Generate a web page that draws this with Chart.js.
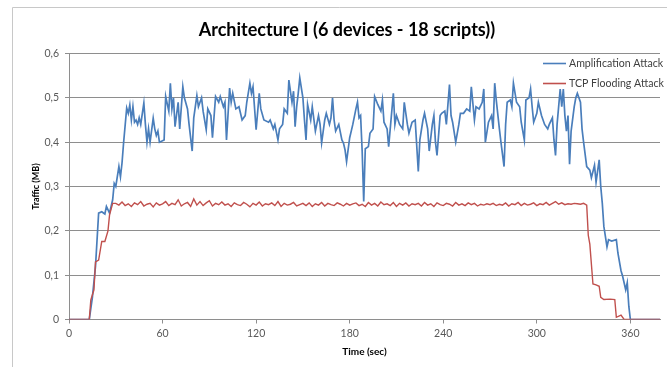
<!DOCTYPE html>
<html>
<head>
<meta charset="utf-8">
<script src="https://cdn.jsdelivr.net/npm/chart.js@4/dist/chart.umd.min.js"></script>
<style>
  html, body { margin: 0; padding: 0; background: #fff; overflow: hidden; }
  canvas { display: block; }
</style>
</head>
<body>
<canvas id="traffic_chart" width="667" height="367"></canvas>
<script>
// Traffic samples [time (sec), traffic (MB)]
const ampSamples = [
  [0,0],[13,0],[15,0.05],[17,0.12],[19,0.24],[21,0.243],[23,0.238],[24,0.255],[26,0.24],[28,0.27],
  [29,0.307],[30,0.3],[32,0.345],[33,0.322],[34,0.353],[35,0.398],[37,0.477],[38,0.465],[39,0.484],[40,0.45],
  [41,0.48],[42,0.445],[43,0.45],[44,0.44],[45,0.455],[46,0.44],[48,0.488],[49,0.44],[50,0.4],[51,0.43],
  [52,0.4],[54,0.454],[55,0.43],[56,0.415],[57,0.425],[58,0.4],[61,0.405],[62,0.503],[64,0.47],[65,0.533],
  [66,0.475],[67,0.5],[68,0.435],[70,0.49],[71,0.43],[73,0.525],[74,0.5],[76,0.475],[77,0.44],[79,0.38],
  [80,0.455],[82,0.505],[83,0.48],[85,0.5],[86,0.47],[88,0.428],[89,0.475],[91,0.46],[92,0.41],[94,0.503],
  [96,0.49],[97,0.503],[99,0.48],[100,0.49],[101,0.405],[103,0.522],[104,0.49],[105,0.51],[107,0.475],[109,0.48],
  [111,0.45],[113,0.46],[114,0.49],[116,0.533],[117,0.51],[118,0.525],[120,0.428],[122,0.51],[123,0.475],[125,0.45],
  [128,0.445],[129,0.45],[131,0.43],[132,0.44],[134,0.405],[135,0.43],[137,0.44],[138,0.475],[140,0.465],[141,0.54],
  [143,0.49],[144,0.515],[145,0.435],[146,0.48],[147,0.51],[148,0.545],[150,0.5],[151,0.45],[152,0.405],[153,0.485],
  [155,0.45],[156,0.48],[158,0.425],[160,0.46],[161,0.44],[162,0.398],[164,0.45],[165,0.465],[167,0.44],[168,0.455],
  [169,0.5],[170,0.45],[171,0.425],[173,0.44],[175,0.405],[176,0.398],[177,0.383],[178,0.356],[180,0.41],[181,0.425],
  [182,0.44],[184,0.475],[185,0.49],[186,0.455],[187,0.46],[188,0.38],[189,0.266],[190,0.385],[192,0.39],[193,0.42],
  [195,0.43],[196,0.503],[198,0.485],[200,0.47],[201,0.495],[202,0.445],[204,0.43],[205,0.39],[208,0.51],[209,0.44],
  [210,0.46],[212,0.44],[214,0.43],[215,0.49],[217,0.44],[218,0.42],[220,0.445],[222,0.45],[224,0.334],[225,0.405],
  [227,0.45],[228,0.465],[230,0.43],[231,0.38],[233,0.44],[234,0.46],[235,0.4],[236,0.37],[238,0.46],[239,0.465],
  [241,0.47],[242,0.44],[244,0.53],[245,0.46],[246,0.445],[248,0.4],[250,0.44],[251,0.465],[253,0.465],[255,0.475],
  [257,0.47],[258,0.525],[260,0.45],[261,0.48],[263,0.475],[265,0.49],[266,0.52],[267,0.4],[269,0.445],[271,0.46],
  [272,0.43],[273,0.533],[274,0.495],[276,0.43],[277,0.4],[279,0.345],[280,0.44],[281,0.49],[283,0.495],[284,0.48],
  [285,0.533],[287,0.49],[289,0.48],[290,0.445],[292,0.405],[293,0.495],[295,0.5],[296,0.52],[297,0.48],[298,0.445],
  [300,0.465],[301,0.49],[303,0.46],[305,0.44],[307,0.43],[308,0.44],[310,0.455],[311,0.405],[312,0.37],[313,0.44],
  [315,0.52],[316,0.48],[317,0.52],[318,0.46],[319,0.425],[320,0.46],[321,0.35],[322,0.425],[324,0.48],[325,0.5],
  [326,0.51],[328,0.49],[329,0.43],[330,0.4],[332,0.345],[334,0.337],[335,0.32],[337,0.348],[338,0.31],[340,0.36],
  [341,0.3],[342,0.262],[343,0.21],[345,0.164],[346,0.18],[348,0.177],[351,0.18],[352,0.15],[354,0.11],[355,0.098],
  [357,0.067],[358,0.083],[359,0.03],[360,0],[379,0]
];

const tcpSamples = [
  [0,0],[13,0],[14,0.044],[16,0.067],[17,0.13],[19,0.134],[21,0.176],[23,0.176],[25,0.2],[26,0.236],[28,0.262],
  [30,0.262],[32,0.258],[34,0.265],[36,0.257],[38,0.261],[40,0.255],[42,0.263],[44,0.259],[46,0.266],[48,0.256],
  [50,0.26],[52,0.262],[54,0.254],[56,0.263],[58,0.258],[60,0.261],[62,0.266],[64,0.257],[66,0.262],[68,0.259],
  [70,0.27],[72,0.256],[74,0.261],[76,0.264],[78,0.255],[80,0.272],[82,0.258],[84,0.266],[86,0.257],[88,0.263],
  [90,0.268],[92,0.256],[94,0.262],[96,0.259],[98,0.265],[100,0.258],[102,0.261],[104,0.255],[106,0.263],[108,0.259],
  [110,0.257],[112,0.264],[114,0.26],[116,0.254],[118,0.262],[120,0.258],[122,0.265],[124,0.256],[126,0.261],[128,0.259],
  [130,0.263],[132,0.257],[134,0.266],[136,0.255],[138,0.262],[140,0.258],[142,0.26],[144,0.264],[146,0.256],[148,0.259],
  [150,0.262],[152,0.257],[154,0.263],[156,0.255],[158,0.261],[160,0.258],[162,0.264],[164,0.256],[166,0.262],[168,0.259],
  [170,0.257],[172,0.263],[174,0.26],[176,0.256],[178,0.262],[180,0.258],[182,0.261],[184,0.263],[186,0.257],[188,0.26],
  [190,0.255],[192,0.264],[194,0.258],[196,0.262],[198,0.256],[200,0.265],[202,0.259],[204,0.261],[206,0.257],[208,0.264],
  [210,0.255],[212,0.262],[214,0.258],[216,0.263],[218,0.256],[220,0.261],[222,0.259],[224,0.262],[226,0.256],[228,0.264],
  [230,0.258],[232,0.261],[234,0.255],[236,0.263],[238,0.259],[240,0.257],[242,0.262],[244,0.26],[246,0.256],[248,0.264],
  [250,0.258],[252,0.261],[254,0.257],[256,0.263],[258,0.259],[260,0.262],[262,0.256],[264,0.26],[266,0.258],[268,0.261],
  [270,0.259],[272,0.262],[274,0.257],[276,0.26],[278,0.258],[280,0.263],[282,0.256],[284,0.261],[286,0.259],[288,0.264],
  [290,0.257],[292,0.262],[294,0.258],[296,0.26],[298,0.263],[300,0.257],[302,0.261],[304,0.259],[306,0.264],[308,0.258],
  [310,0.262],[312,0.266],[314,0.26],[316,0.263],[318,0.259],[320,0.261],[322,0.26],[324,0.262],[326,0.261],[328,0.26],
  [330,0.262],[332,0.258],[333,0.19],[334,0.17],[336,0.08],[338,0.078],[340,0.075],[341,0.05],[343,0.045],[347,0.046],
  [350,0.045],[351,0.005],[354,0.01],[356,0],[379,0]
];

const seriesNames = ['Amplification Attack', 'TCP Flooding Attack'];
const seriesColors = ['#4a7ebb', '#c0504d'];
const timeTicks = [0, 60, 120, 180, 240, 300, 360];
const trafficTicks = [0, 0.1, 0.2, 0.3, 0.4, 0.5, 0.6];
const chartTitle = 'Architecture I (6 devices - 18 scripts))';

const toPoints = rows => rows.map(r => ({ x: r[0], y: r[1] }));
const FONT = 'Lato, "Open Sans", sans-serif';

// frame round the chart, title over the whole frame, legend top right of the plot
const framePlugin = {
  id: 'frame',
  beforeDraw(chart) {
    const ctx = chart.ctx;
    ctx.save();
    ctx.fillStyle = '#fff';
    ctx.fillRect(0, 0, chart.width, chart.height);
    ctx.strokeStyle = '#c8c8c8';
    ctx.lineWidth = 1;
    ctx.beginPath();
    ctx.moveTo(12.5, chart.height);
    ctx.lineTo(12.5, 7.5);
    ctx.lineTo(chart.width, 7.5);
    ctx.stroke();
    ctx.restore();
  },
  afterDraw(chart) {
    const ctx = chart.ctx;
    const area = chart.chartArea;
    ctx.save();
    ctx.fillStyle = '#000';
    ctx.font = 'bold 18px ' + FONT;
    ctx.textAlign = 'center';
    ctx.textBaseline = 'middle';
    ctx.fillText(chartTitle, 347, 30);

    ctx.font = '10.6px ' + FONT;
    ctx.textAlign = 'left';
    seriesNames.forEach((name, i) => {
      const y = area.top + 10 + i * 20;
      const x0 = area.right - 117;
      ctx.strokeStyle = seriesColors[i];
      ctx.lineWidth = 1.6;
      ctx.beginPath();
      ctx.moveTo(x0, y);
      ctx.lineTo(x0 + 23, y);
      ctx.stroke();
      ctx.fillStyle = '#404040';
      ctx.fillText(name, x0 + 26, y);
    });
    ctx.restore();
  }
};

new Chart(document.getElementById('traffic_chart'), {
  type: 'line',
  data: {
    datasets: [
      {
        label: seriesNames[0],
        data: toPoints(ampSamples),
        borderColor: seriesColors[0],
        borderWidth: 1.7,
        pointRadius: 0,
        tension: 0,
        order: 1
      },
      {
        label: seriesNames[1],
        data: toPoints(tcpSamples),
        borderColor: seriesColors[1],
        borderWidth: 1.4,
        pointRadius: 0,
        tension: 0,
        order: 0
      }
    ]
  },
  options: {
    responsive: false,
    animation: false,
    layout: { padding: { left: 14, right: 7, top: 53.5, bottom: 0 } },
    plugins: {
      legend: { display: false },
      tooltip: { enabled: false },
      title: { display: false }
    },
    scales: {
      x: {
        type: 'linear',
        min: 0,
        max: 379,
        afterFit: s => { s.height = 47.5; },
        afterBuildTicks: s => { s.ticks = timeTicks.map(v => ({ value: v })); },
        ticks: {
          color: '#595959',
          font: { family: FONT, size: 10.5 },
          padding: 4,
          maxRotation: 0
        },
        grid: { drawOnChartArea: false, color: '#8e8e8e', tickLength: 4 },
        border: { color: '#8e8e8e' },
        title: {
          display: true,
          text: 'Time (sec)',
          color: '#000',
          font: { family: FONT, size: 10, weight: 'bold' },
          padding: { top: 0, bottom: 9 }
        }
      },
      y: {
        min: 0,
        max: 0.6,
        afterFit: s => { s.width = 55; },
        afterBuildTicks: s => { s.ticks = trafficTicks.map(v => ({ value: v })); },
        ticks: {
          color: '#595959',
          font: { family: FONT, size: 10.5 },
          padding: 6,
          callback: v => v === 0 ? '0' : v.toFixed(1).replace('.', ',')
        },
        grid: { color: '#8e8e8e', tickLength: 4 },
        border: { color: '#8e8e8e' },
        title: {
          display: true,
          text: 'Traffic (MB)',
          color: '#000',
          font: { family: FONT, size: 9, weight: 'bold' },
          padding: { top: 17, bottom: 0 }
        }
      }
    }
  },
  plugins: [framePlugin]
});
</script>
</body>
</html>
